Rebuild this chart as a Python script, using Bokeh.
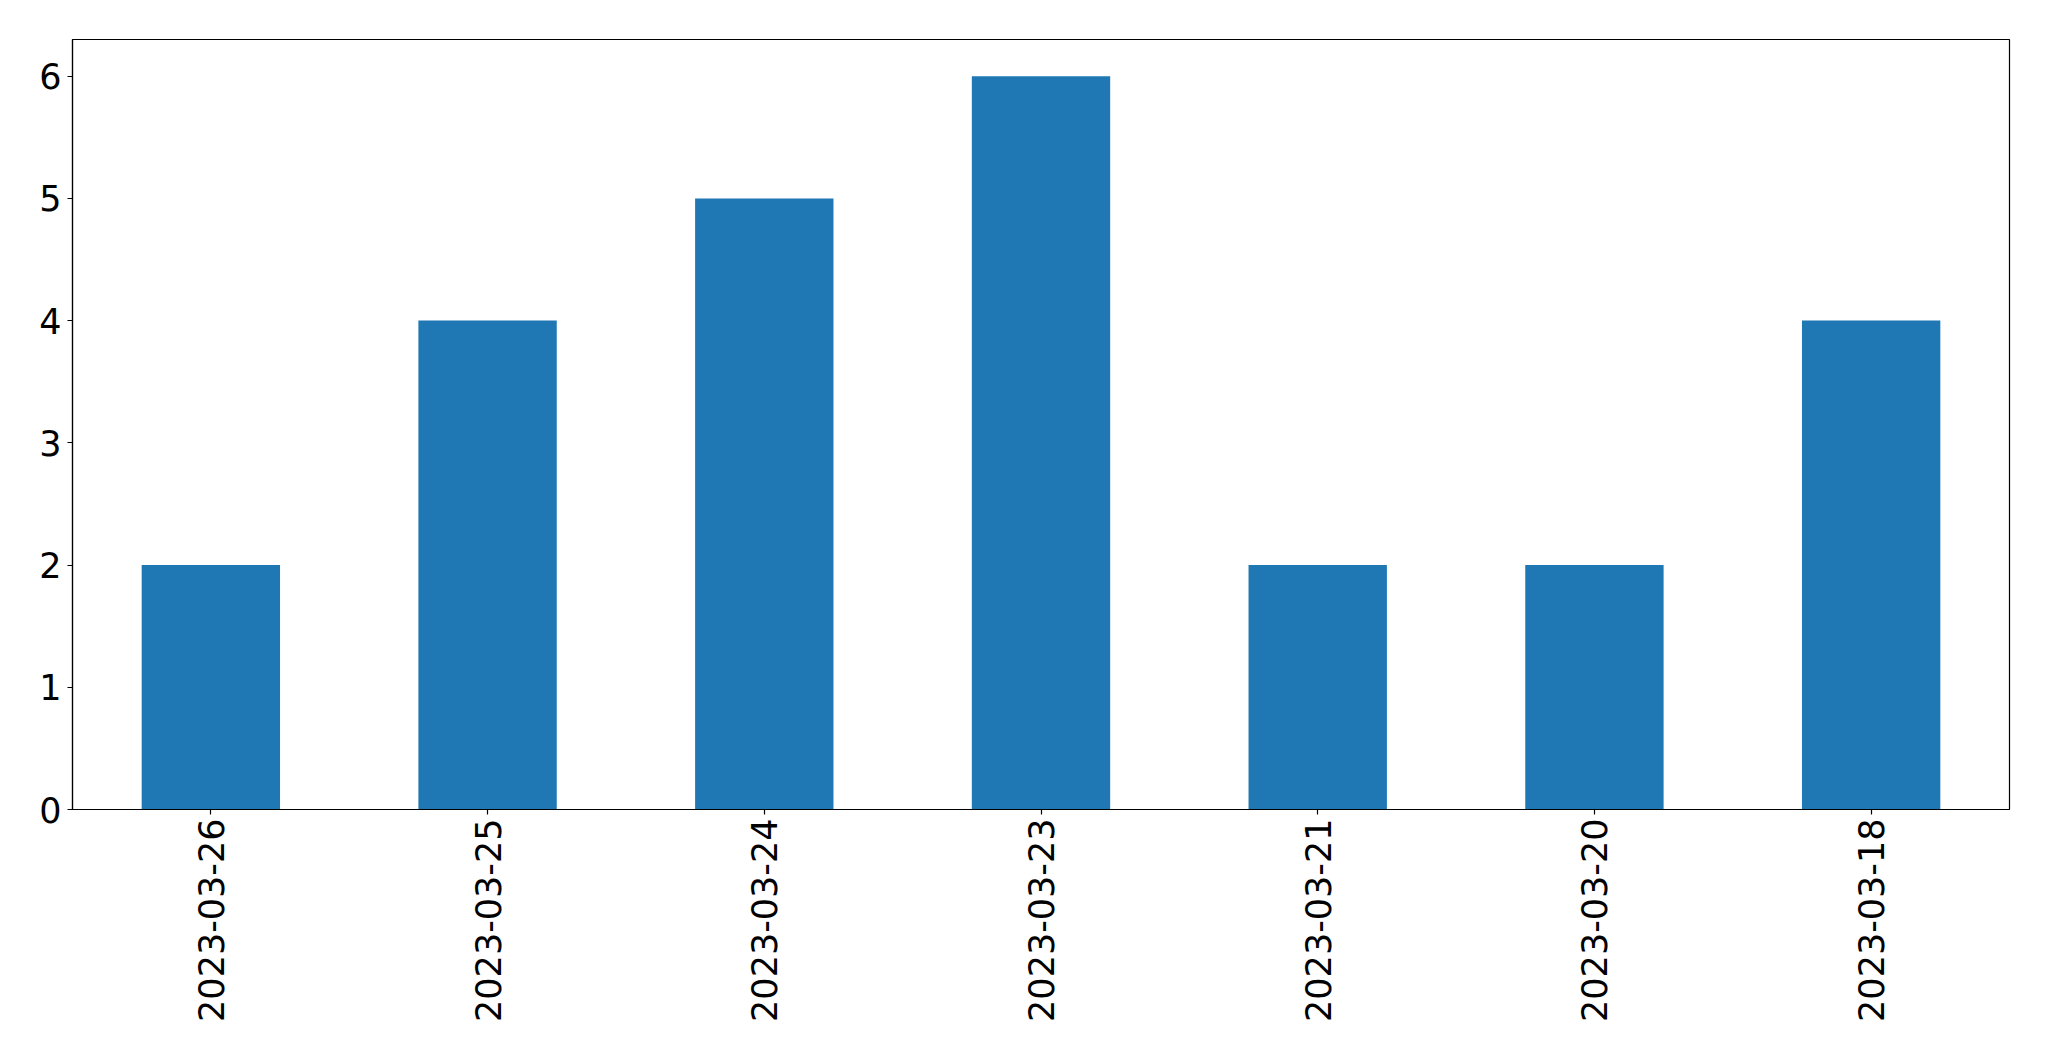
from bokeh.plotting import figure
from bokeh.models import ColumnDataSource, FixedTicker, Range1d
from bokeh.embed import file_html
from bokeh.resources import INLINE
import math

dates = ["2023-03-26", "2023-03-25", "2023-03-24", "2023-03-23", "2023-03-21", "2023-03-20", "2023-03-18"]
counts = [2, 4, 5, 6, 2, 2, 4]
y_ticks = [0, 1, 2, 3, 4, 5, 6]

src = ColumnDataSource(dict(date=dates, count=counts))

p = figure(x_range=dates, y_range=Range1d(0, 6.3), width=2033, height=1045,
           output_backend="svg", toolbar_location=None,
           min_border_left=72, min_border_right=24, min_border_top=39, min_border_bottom=236)

p.vbar(x="date", top="count", width=0.5, source=src, fill_color="#1f77b4", line_color=None)

p.xgrid.visible = False
p.ygrid.visible = False
p.outline_line_color = "black"
p.outline_line_width = 1.2
p.background_fill_color = "white"
p.border_fill_color = "white"

p.yaxis.ticker = FixedTicker(ticks=y_ticks)
for ax in (p.xaxis[0], p.yaxis[0]):
    ax.axis_line_color = "black"
    ax.axis_line_width = 1.2
    ax.major_tick_line_color = "black"
    ax.major_tick_line_width = 1.2
    ax.major_tick_out = 5
    ax.major_tick_in = 0
    ax.minor_tick_line_color = None
    ax.major_label_text_font = "DejaVu Sans"
    ax.major_label_text_font_size = "35px"
    ax.major_label_text_color = "black"

p.xaxis.major_label_orientation = math.pi / 2
p.xaxis.major_label_standoff = 4
p.yaxis.major_label_standoff = 6

open("out.html", "w").write(file_html(p, INLINE))
